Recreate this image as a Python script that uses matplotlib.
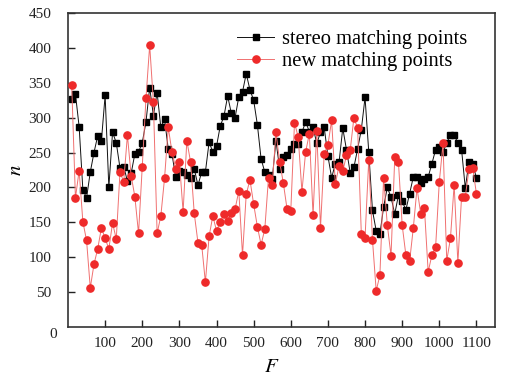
import matplotlib
matplotlib.use("Agg")
import matplotlib.pyplot as plt

F = list(range(10, 1101, 10))

stereo = [327, 334, 287, 197, 185, 222, 250, 274, 267, 332,
          200, 279, 264, 228, 230, 209, 220, 248, 251, 264,
          294, 343, 303, 336, 286, 298, 255, 248, 215, 224,
          222, 218, 214, 227, 203, 222, 222, 265, 251, 259,
          288, 302, 331, 306, 300, 330, 337, 363, 340, 325,
          290, 241, 222, 218, 212, 267, 227, 244, 246, 255,
          262, 262, 279, 294, 280, 286, 263, 279, 286, 245,
          214, 234, 236, 285, 254, 221, 229, 255, 283, 329,
          251, 167, 138, 133, 172, 200, 186, 162, 189, 180,
          168, 191, 215, 215, 207, 212, 215, 234, 254, 258,
          251, 264, 275, 275, 264, 254, 199, 237, 233, 214]

new = [347, 185, 224, 151, 124, 56, 90, 112, 142, 127,
       112, 149, 126, 222, 208, 275, 217, 187, 134, 230,
       328, 404, 322, 134, 159, 213, 286, 251, 227, 237,
       165, 267, 237, 163, 121, 118, 64, 130, 159, 138,
       150, 162, 152, 163, 169, 195, 103, 190, 211, 176,
       144, 118, 140, 214, 203, 279, 237, 206, 169, 166,
       293, 272, 194, 251, 277, 160, 281, 142, 248, 261,
       296, 205, 231, 223, 246, 253, 300, 285, 133, 128,
       240, 125, 52, 74, 214, 146, 102, 243, 236, 146,
       103, 94, 142, 199, 162, 170, 79, 103, 114, 208,
       263, 95, 127, 204, 92, 187, 187, 226, 228, 191]

xticks = [100, 200, 300, 400, 500, 600, 700, 800, 900, 1000, 1100]
yticks = [50, 100, 150, 200, 250, 300, 350, 400, 450]

plt.rcParams['font.family'] = ['Liberation Serif', 'DejaVu Serif']
plt.rcParams['mathtext.fontset'] = 'stix'

fig = plt.figure(figsize=(5.05, 3.79), dpi=100)
ax = fig.add_axes([68/505, 1-327/379, (495-68)/505, (327-13)/379])

ax.plot(F, stereo, color='#111111', lw=0.7, marker='s', ms=4.6,
        mfc='black', mec='black', label='stereo matching points', zorder=3)
ax.plot(F, new, color='#f07070', lw=0.7, marker='o', ms=5.2,
        mfc='#ee2a2a', mec='#ee2a2a', label='new matching points', zorder=4)

ax.set_xlim(0, 1150)
ax.set_ylim(0, 450)
ax.set_xticks(xticks)
ax.set_yticks(yticks)
ax.tick_params(direction='in', length=5, width=1.0, labelsize=11,
               top=False, right=False, colors='#222222', pad=7)
ax.tick_params(axis='y', pad=12)
for s in ax.spines.values():
    s.set_linewidth(1.2)
    s.set_color('#333333')

ax.text(-0.025, -0.003, '0', transform=ax.transAxes, fontsize=11,
        ha='right', va='top', color='#222222')

ax.set_xlabel('$F$', fontsize=15, labelpad=0)
ax.set_ylabel('$n$', fontsize=15, labelpad=2)
ax.xaxis.set_label_coords((272-68)/427, -0.1)

leg = ax.legend(loc='upper left', bbox_to_anchor=((237-68)/427, 0.946),
                frameon=False, fontsize=14.8, handlelength=1.8,
                handletextpad=0.4, labelspacing=0.1, borderpad=0,
                borderaxespad=0)

fig.savefig('out.png', dpi=100)
